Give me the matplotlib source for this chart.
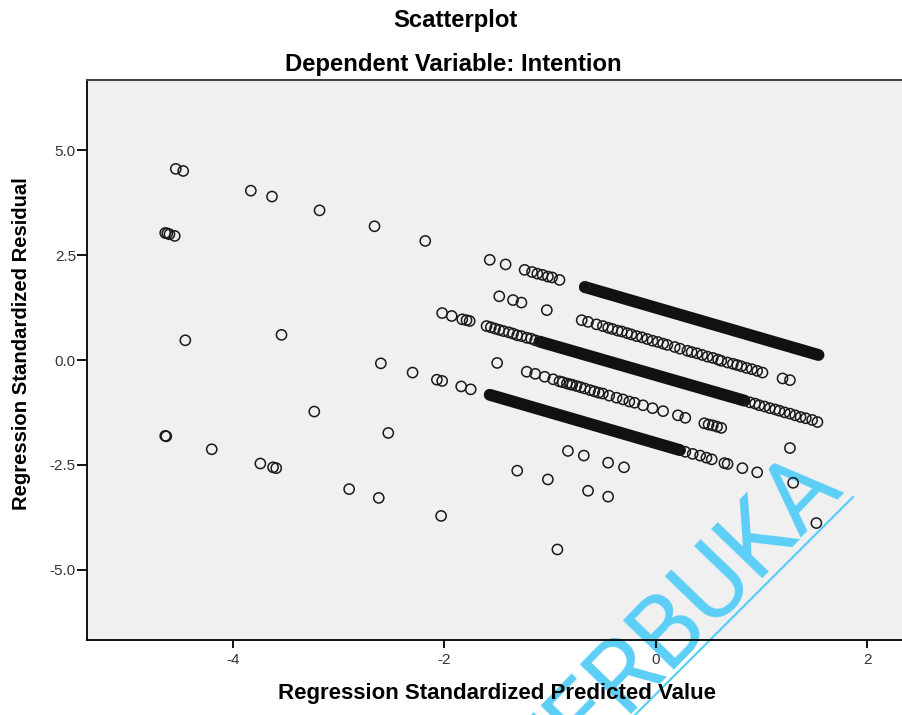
import matplotlib.pyplot as plt

plt.rcParams['font.family'] = ['Liberation Sans', 'DejaVu Sans']

# ZPRED / ZRESID, grouped by the diagonal band they sit on
a_x = [-4.54, -4.47, -3.83, -3.63, -3.18, -2.66, -2.18, -1.57, -1.42, -1.24, -1.17,
       -1.12, -1.07, -1.02, -0.98, -0.91, -0.67]
a_y = [4.56, 4.51, 4.04, 3.90, 3.57, 3.19, 2.84, 2.39, 2.28, 2.15, 2.10,
       2.06, 2.03, 1.99, 1.97, 1.91, 1.74]

b_x = [-1.48, -1.35, -1.27, -1.03, -0.70, -0.64, -0.56, -0.50, -0.45, -0.41, -0.36,
       -0.32, -0.27, -0.23, -0.18, -0.13, -0.08, -0.03, 0.02, 0.07, 0.11, 0.18, 0.23,
       0.30, 0.34, 0.39, 0.44, 0.49, 0.54, 0.59, 0.62, 0.68, 0.73, 0.77, 0.81, 0.86,
       0.91, 0.96, 1.01, 1.20, 1.27]
b_y = [1.52, 1.43, 1.37, 1.19, 0.95, 0.91, 0.85, 0.81, 0.77, 0.74, 0.70,
       0.68, 0.64, 0.61, 0.57, 0.54, 0.50, 0.46, 0.43, 0.39, 0.36, 0.31, 0.27,
       0.22, 0.19, 0.16, 0.12, 0.08, 0.05, 0.01, -0.02, -0.06, -0.09, -0.12, -0.15, -0.19,
       -0.22, -0.26, -0.30, -0.44, -0.48]

c_x = [-4.64, -4.62, -4.60, -4.55, -2.02, -1.93, -1.83, -1.79, -1.76,
       -1.60, -1.56, -1.52, -1.48, -1.44, -1.39, -1.35, -1.31, -1.27, -1.22, -1.18, -1.14,
       0.89, 0.94, 0.98, 1.03, 1.08, 1.13, 1.17, 1.22, 1.27, 1.32, 1.37, 1.42, 1.48, 1.53]
c_y = [3.03, 3.02, 3.00, 2.96, 1.12, 1.05, 0.97, 0.95, 0.93,
       0.81, 0.78, 0.75, 0.72, 0.69, 0.66, 0.63, 0.59, 0.57, 0.53, 0.51, 0.47,
       -1.01, -1.04, -1.08, -1.11, -1.15, -1.18, -1.21, -1.25, -1.28, -1.32, -1.36, -1.39, -1.43, -1.48]

d_x = [-1.50, -1.22, -1.14, -1.05, -0.97, -0.91, -0.88, -0.84, -0.81, -0.79, -0.75, -0.71,
       -0.67, -0.62, -0.58, -0.54, -0.50, -0.44, -0.37, -0.31, -0.25, -0.20, -0.12, -0.03,
       0.07, 0.21, 0.28, 0.46, 0.50, 0.54, 0.58, 0.62, 1.27]
d_y = [-0.07, -0.28, -0.33, -0.40, -0.46, -0.51, -0.53, -0.56, -0.58, -0.59, -0.62, -0.65,
       -0.68, -0.72, -0.75, -0.78, -0.80, -0.85, -0.90, -0.94, -0.99, -1.02, -1.08, -1.15,
       -1.22, -1.32, -1.38, -1.51, -1.54, -1.56, -1.59, -1.62, -2.10]

e_x = [-3.54, -2.60, -2.30, -2.07, -2.02, -1.84, -1.75,
       0.28, 0.35, 0.42, 0.48, 0.53, 0.65, 0.68, 0.82, 0.96, 1.30]
e_y = [0.60, -0.08, -0.30, -0.47, -0.50, -0.63, -0.70,
       -2.19, -2.24, -2.28, -2.33, -2.37, -2.46, -2.48, -2.58, -2.68, -2.93]

f_x = [-4.45, -0.83, -0.68, -0.45, -0.30, 1.52]
f_y = [0.47, -2.17, -2.28, -2.45, -2.56, -3.89]

g_x = [-3.23, -2.53, -1.31, -1.02, -0.64, -0.45]
g_y = [-1.23, -1.74, -2.64, -2.85, -3.12, -3.26]

i_x = [-4.64, -4.63, -4.20, -3.74, -3.62, -3.59, -2.90, -2.62, -2.03, -0.93]
i_y = [-1.81, -1.82, -2.13, -2.47, -2.56, -2.58, -3.08, -3.29, -3.72, -4.52]

# stretches where the circles pile up into a solid bar (start / end of each run)
run_x0 = [-0.67, -1.10, -1.57]
run_y0 = [1.74, 0.44, -0.83]
run_x1 = [1.54, 0.84, 0.23]
run_y1 = [0.12, -0.97, -2.15]

xticks = [-4, -2, 0, 2]
xtick_labels = ['-4', '-2', '0', '2']
yticks = [-5.0, -2.5, 0.0, 2.5, 5.0]
ytick_labels = ['-5.0', '-2.5', '0.0', '2.5', '5.0']

fig = plt.figure(figsize=(9.02, 7.15), dpi=100)
ax = fig.add_axes([87 / 902, 75 / 715, 815 / 902, 560 / 715])
ax.set_facecolor('#f0f0f0')
ax.set_axisbelow(False)  # ticks and labels above the watermark

# dense runs
for x0, y0, x1, y1 in zip(run_x0, run_y0, run_x1, run_y1):
    ax.plot([x0, x1], [y0, y1], color='#111111', lw=8.6,
            solid_capstyle='round', zorder=3)

# open circles
for xs, ys in [(a_x, a_y), (b_x, b_y), (c_x, c_y), (d_x, d_y),
               (e_x, e_y), (f_x, f_y), (g_x, g_y), (i_x, i_y)]:
    ax.scatter(xs, ys, s=54, facecolors='none', edgecolors='#1a1a1a',
               linewidths=1.1, zorder=3)

ax.set_xlim(-5.38, 2.33)
ax.set_ylim(-6.68, 6.68)
ax.set_xticks(xticks)
ax.set_xticklabels(xtick_labels)
ax.set_yticks(yticks)
ax.set_yticklabels(ytick_labels)
ax.tick_params(axis='x', direction='out', length=6, width=1.3, pad=3,
               labelsize=11, labelcolor='#333333')
ax.tick_params(axis='y', direction='out', length=7, width=1.3, pad=1,
               labelsize=11, labelcolor='#333333')

ax.spines['right'].set_visible(False)
ax.spines['left'].set_linewidth(1.3)
ax.spines['bottom'].set_linewidth(1.3)
ax.spines['top'].set_linewidth(1.5)
ax.spines['top'].set_color('#444444')

ax.set_xlabel('Regression Standardized Predicted Value', fontsize=16, fontweight='bold')
ax.xaxis.label.set_va('center')
ax.xaxis.set_label_coords(0.503, -0.096)
ax.set_ylabel('Regression Standardized Residual', fontsize=14.6, fontweight='bold')
ax.yaxis.label.set_va('center')
ax.yaxis.set_label_coords(-0.080, 0.530)

fig.text(455 / 902, 1 - 21 / 715, 'Scatterplot', ha='center', va='center',
         fontsize=17.2, fontweight='bold')
fig.text(453 / 902, 1 - 65 / 715, 'Dependent Variable: Intention', ha='center',
         va='center', fontsize=17.2, fontweight='bold')

# watermark
ax.text(846 / 902, 1 - 490 / 715, 'TERBUKA', transform=fig.transFigure,
        rotation=46, rotation_mode='anchor', ha='right', va='baseline',
        fontsize=72, color='#5ccff7', family='Roboto', fontweight='normal',
        clip_on=False, zorder=1.8)
ax.plot([853 / 902, 632 / 902], [1 - 497 / 715, 1 - 718 / 715], transform=fig.transFigure,
        color='#5ccff7', lw=1.6, clip_on=False, zorder=1.8)

plt.savefig('out.png', dpi=100)
